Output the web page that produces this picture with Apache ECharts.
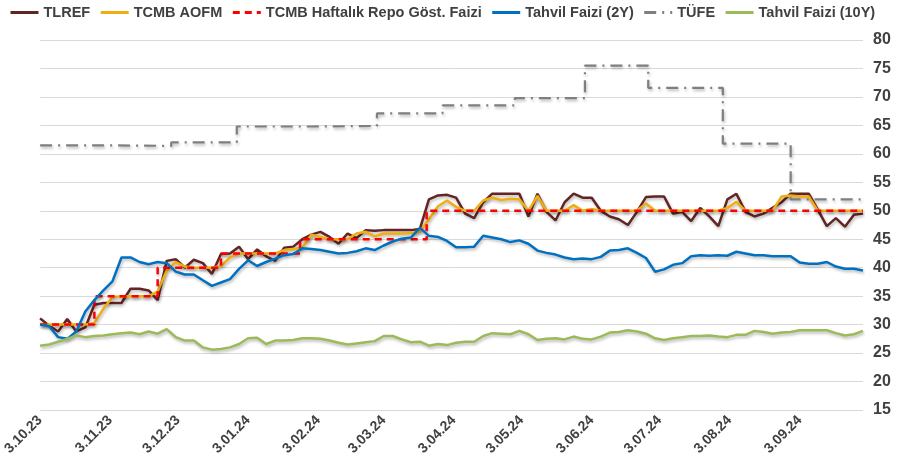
<!DOCTYPE html>
<html>
<head>
<meta charset="utf-8">
<script src="https://cdn.jsdelivr.net/npm/echarts@6/dist/echarts.min.js"></script>
<style>
  html, body { margin: 0; padding: 0; background: #fff; }
  #chart { width: 902px; height: 464px; }
</style>
</head>
<body>
<div id="chart"></div>
<script>
// sample grid: every 4 days from 3.10.23 to 1.10.24
var startDate = '2023-10-03';
var stepDays = 4;

// month ticks shown on the x axis
var tickDates = ['2023-10-03', '2023-11-03', '2023-12-03', '2024-01-03', '2024-02-03', '2024-03-03',
                 '2024-04-03', '2024-05-03', '2024-06-03', '2024-07-03', '2024-08-03', '2024-09-03'];

var tlref = [31.1, 29.8, 28.8, 31.0, 28.8, 29.5, 33.5, 33.8, 33.8, 33.8, 36.3, 36.3, 36.0, 34.3, 41.2,
             41.5, 40.0, 41.4, 40.8, 38.9, 42.4, 42.5, 43.7, 41.5, 43.2, 42.0, 41.2, 43.5, 43.7, 45.0,
             45.8, 46.3, 45.4, 44.2, 46.0, 45.2, 46.6, 46.5, 46.6, 46.6, 46.6, 46.6, 46.8, 52.0, 52.7,
             52.8, 52.3, 49.5, 48.7, 51.5, 53.0, 53.0, 53.0, 53.0, 49.0, 53.0, 49.8, 48.3, 51.5, 53.0,
             52.3, 52.3, 50.0, 49.0, 48.5, 47.5, 49.8, 52.4, 52.5, 52.5, 49.5, 49.8, 48.2, 50.5, 49.0,
             47.3, 52.0, 53.0, 49.8, 49.0, 49.5, 50.5, 51.5, 53.0, 53.0, 53.0, 50.2, 47.3, 48.7, 47.2,
             49.3, 49.5];

var aofm = [30.0, 30.0, 30.0, 30.0, 30.0, 30.0, 30.3, 32.8, 34.8, 35.0, 35.0, 35.0, 35.0, 35.8, 39.5,
            41.0, 40.2, 40.0, 40.0, 40.0, 40.3, 41.8, 42.5, 42.5, 42.5, 42.5, 42.5, 43.1, 43.3, 43.5,
            45.8, 45.4, 45.0, 45.0, 45.0, 46.0, 46.3, 45.5, 46.0, 46.0, 46.0, 46.1, 46.3, 48.5, 50.8,
            51.8, 50.7, 50.0, 50.0, 51.8, 52.3, 51.9, 52.1, 52.0, 50.0, 52.6, 50.0, 50.0, 50.0, 51.0,
            50.0, 50.3, 50.0, 50.0, 50.0, 50.0, 50.0, 51.3, 50.0, 50.0, 50.0, 50.0, 50.0, 50.0, 50.0,
            50.0, 50.5, 51.6, 50.0, 50.0, 50.0, 50.0, 52.5, 52.7, 52.5, 52.5, 50.0, 50.0, 50.0, 50.0,
            50.0, 50.0];

var bond2y = [30.0, 29.7, 27.8, 27.5, 28.8, 32.3, 34.3, 36.0, 37.6, 41.8, 41.8, 41.0, 40.6, 41.0, 40.8,
              39.3, 38.8, 38.8, 37.8, 36.8, 37.4, 38.0, 39.8, 41.3, 40.3, 41.0, 41.6, 42.2, 42.4, 43.4,
              43.3, 43.1, 42.8, 42.5, 42.6, 42.9, 43.4, 43.1, 43.9, 44.6, 45.1, 45.3, 47.0, 45.6, 45.4,
              44.7, 43.6, 43.6, 43.7, 45.6, 45.3, 45.0, 44.5, 44.8, 44.2, 43.0, 42.6, 42.3, 41.8, 41.5,
              41.6, 41.5, 41.9, 43.0, 43.1, 43.4, 42.6, 41.7, 39.3, 39.7, 40.5, 40.8, 42.0, 42.2, 42.1,
              42.2, 42.1, 42.8, 42.5, 42.2, 42.2, 42.0, 42.0, 42.0, 40.9, 40.7, 40.7, 41.0, 40.2, 39.8,
              39.8, 39.5];

var bond10y = [26.3, 26.5, 27.0, 27.5, 28.1, 27.8, 28.0, 28.1, 28.3, 28.5, 28.6, 28.3, 28.8, 28.4, 29.2,
               27.8, 27.2, 27.2, 26.0, 25.6, 25.7, 26.0, 26.6, 27.6, 27.7, 26.6, 27.2, 27.2, 27.3, 27.6,
               27.6, 27.5, 27.2, 26.8, 26.5, 26.7, 26.9, 27.1, 28.0, 28.0, 27.4, 26.9, 27.0, 26.3, 26.6,
               26.4, 26.8, 27.0, 27.0, 28.0, 28.5, 28.4, 28.3, 28.9, 28.3, 27.3, 27.5, 27.6, 27.4, 27.9,
               27.5, 27.4, 27.9, 28.6, 28.7, 29.0, 28.8, 28.4, 27.6, 27.3, 27.6, 27.8, 28.0, 28.0, 28.1,
               27.9, 27.8, 28.2, 28.2, 28.9, 28.7, 28.4, 28.6, 28.7, 29.0, 29.0, 29.0, 29.0, 28.5, 28.1,
               28.3, 28.9];

// step series: date the level starts, value
var repoDates = ['2023-10-03', '2023-10-27', '2023-11-24', '2023-12-22', '2024-01-26', '2024-03-22', '2024-10-01'];
var repoValues = [30, 35, 40, 42.5, 45, 50, 50];

var cpiDates = ['2023-10-03', '2023-10-31', '2023-11-30', '2023-12-29', '2024-01-31', '2024-02-29', '2024-03-29',
                '2024-04-30', '2024-05-31', '2024-06-28', '2024-07-31', '2024-08-30', '2024-10-01'];
var cpiValues = [61.5, 61.4, 62.0, 64.8, 64.9, 67.1, 68.5, 69.8, 75.5, 71.6, 61.8, 52.0, 52.0];

function toTime(s) {
  var p = s.split('-');
  return new Date(+p[0], +p[1] - 1, +p[2]).getTime();
}

var sampleTimes = [];
(function () {
  var p = startDate.split('-');
  for (var i = 0; i < tlref.length; i++) {
    sampleTimes.push(new Date(+p[0], +p[1] - 1, +p[2] + i * stepDays).getTime());
  }
})();

function pair(times, vals) {
  return vals.map(function (v, i) { return [times[i], v]; });
}

var textColor = '#404040';
var fontFamily = 'Arial, "Liberation Sans", sans-serif';
var shadow = { shadowColor: 'rgba(0,0,0,0.28)', shadowBlur: 3, shadowOffsetX: 1, shadowOffsetY: 2 };

function lineSeries(name, color, data, extra) {
  var s = {
    name: name,
    type: 'line',
    symbol: 'none',
    data: data,
    lineStyle: Object.assign({ color: color, width: 2.5 }, shadow),
    itemStyle: { color: color }
  };
  if (extra) {
    if (extra.lineStyle) Object.assign(s.lineStyle, extra.lineStyle);
    if (extra.step) s.step = extra.step;
  }
  return s;
}

var chart = echarts.init(document.getElementById('chart'));
chart.setOption({
  animation: false,
  backgroundColor: '#fff',
  textStyle: { fontFamily: fontFamily },
  legend: {
    top: 5,
    left: 9,
    width: 893,
    padding: 0,
    itemWidth: 28,
    itemHeight: 12,
    itemGap: 9,
    textStyle: { color: textColor, fontSize: 14.5, fontWeight: 'bold', fontFamily: fontFamily },
    itemStyle: { opacity: 0 },
    lineStyle: { width: 3, shadowBlur: 0, shadowOffsetX: 0, shadowOffsetY: 0, shadowColor: 'transparent' }
  },
  grid: { left: 35, right: 39, top: 40, bottom: 54 },
  xAxis: {
    type: 'value',
    min: toTime(startDate),
    max: sampleTimes[sampleTimes.length - 1],
    axisLine: { show: false },
    axisTick: { show: false },
    splitLine: { show: false },
    axisLabel: {
      customValues: tickDates.map(toTime),
      rotate: 45,
      margin: 8,
      color: textColor,
      fontSize: 14,
      fontWeight: 'bold',
      fontFamily: fontFamily,
      formatter: function (v) {
        var d = new Date(v);
        var m = d.getMonth() + 1;
        return d.getDate() + '.' + (m < 10 ? '0' + m : m) + '.' + String(d.getFullYear()).slice(2);
      }
    }
  },
  yAxis: {
    type: 'value',
    position: 'right',
    min: 15,
    max: 80,
    interval: 5,
    axisLine: { show: false },
    axisTick: { show: false },
    splitLine: { lineStyle: { color: '#d9d9d9', width: 1 } },
    axisLabel: { color: textColor, fontSize: 16, fontWeight: 'bold', fontFamily: fontFamily, margin: 10 }
  },
  series: [
    lineSeries('TLREF', '#632523', pair(sampleTimes, tlref)),
    lineSeries('TCMB AOFM', '#f2ae10', pair(sampleTimes, aofm)),
    lineSeries('TCMB Haftalık Repo Göst. Faizi', '#ff0000', pair(repoDates.map(toTime), repoValues),
      { step: 'end', lineStyle: { type: [7, 5], width: 2.5 } }),
    lineSeries('Tahvil Faizi (2Y)', '#0070c0', pair(sampleTimes, bond2y)),
    lineSeries('TÜFE', '#7f7f7f', pair(cpiDates.map(toTime), cpiValues),
      { step: 'end', lineStyle: { type: [12, 6, 2, 6], width: 2.2 } }),
    lineSeries('Tahvil Faizi (10Y)', '#9bbb59', pair(sampleTimes, bond10y))
  ]
});
</script>
</body>
</html>
